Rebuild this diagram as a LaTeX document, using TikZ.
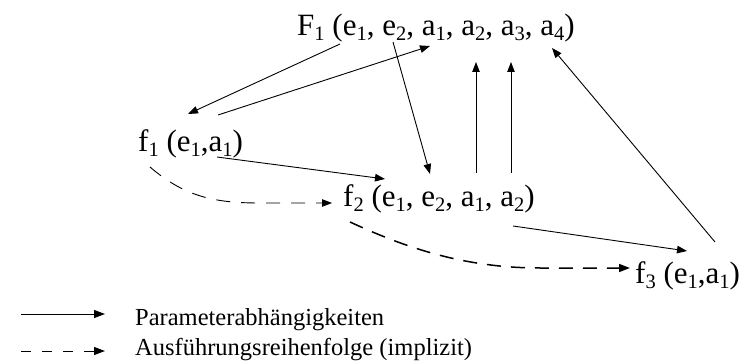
\documentclass[tikz,border=0pt]{standalone}
\usepackage{fontspec}
\setmainfont{Liberation Serif}
\usetikzlibrary{arrows.meta,calc}
\newcommand\ms[1]{\raisebox{-5pt}{\fontsize{20.5}{20}\selectfont #1}}
\tikzset{
  lbl/.style={inner sep=0pt, anchor=base west, font=\fontsize{31}{36}\selectfont},
  leg/.style={inner sep=0pt, anchor=base west, font=\fontsize{24.5}{28}\selectfont},
  dep/.style={line width=0.9pt, -{Triangle[length=10pt,width=7.5pt]}},
  ord/.style={line width=0.9pt, dash pattern=on 14pt off 11pt, -{Triangle[length=10pt,width=7.5pt]}},
  ordthick/.style={line width=1.5pt, dash pattern=on 14pt off 10pt, -{Triangle[length=11pt,width=8pt]}},
  legsolid/.style={line width=1pt, -{Triangle[length=11pt,width=8pt]}},
  legdash/.style={line width=1pt, dash pattern=on 10pt off 11pt, -{Triangle[length=11pt,width=8pt]}}
}
\begin{document}
\begin{tikzpicture}[x=1pt,y=-1pt]
\useasboundingbox (0,0) rectangle (751,363);
\node[lbl] (F1) at (297,36) {F\ms{1} (e\ms{1}, e\ms{2}, a\ms{1}, a\ms{2}, a\ms{3}, a\ms{4})};
\node[lbl] (f1) at (138,152) {f\ms{1} (e\ms{1},a\ms{1})};
\node[lbl] (f2) at (343,207) {f\ms{2} (e\ms{1}, e\ms{2}, a\ms{1}, a\ms{2})};
\node[lbl] (f3) at (635,283) {f\ms{3} (e\ms{1},a\ms{1})};
\node[leg] (l1) at (135,325) {Parameterabhängigkeiten};
\node[leg] (l2) at (135,355) {Ausführungsreihenfolge (implizit)};
% parameter dependencies
\draw[dep] ($(F1.base west)+(43,8)$) -- ($(f1.base west)+(50,-38)$);
\draw[dep] ($(f1.base west)+(80,-37)$) -- ($(F1.base west)+(133,10)$);
\draw[dep] ($(F1.base west)+(96,6)$) -- ($(f2.base west)+(87,-33)$);
\draw[dep] ($(f1.base west)+(79,5)$) -- ($(f2.base west)+(42,-28)$);
\draw[dep] ($(f2.base west)+(133,-34)$) -- ($(F1.base west)+(179,26)$);
\draw[dep] ($(f2.base west)+(168,-34)$) -- ($(F1.base west)+(214,26)$);
\draw[dep] ($(f3.base west)+(80,-41)$) -- ($(F1.base west)+(255,12)$);
\draw[dep] ($(f2.base west)+(170,19)$) -- ($(f3.base west)+(52,-32)$);
% execution order
\draw[ord] ($(f1.base west)+(12,15)$) .. controls +(35,30) and +(-45,0) .. ($(f1.base west)+(122,51)$) -- ($(f2.base west)+(-11,-4)$);
\draw[ordthick] ($(f2.base west)+(7,15)$) .. controls +(50,23) and +(-80,0) .. ($(f2.base west)+(197,61)$) -- ($(f3.base west)+(-5,-15)$);
% legend
\coordinate (s1) at (21,314);
\coordinate (s2) at (21,351);
\draw[legsolid] (s1) -- ($(l1.base west)+(-30,-11)$);
\draw[legdash] (s2) -- ($(l2.base west)+(-30,-4)$);
\end{tikzpicture}
\end{document}
